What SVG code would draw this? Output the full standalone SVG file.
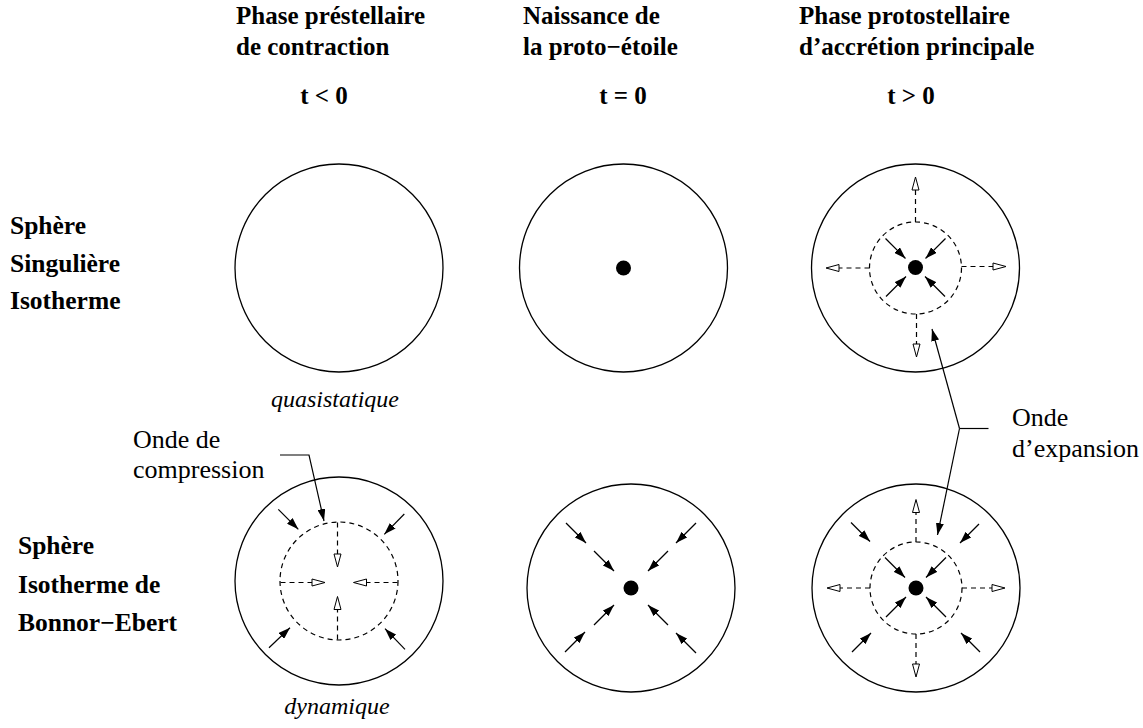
<svg xmlns="http://www.w3.org/2000/svg" width="1143" height="728" viewBox="0 0 1143 728">
<style>
.bg{fill:#fff}
.hd{font-family:"Liberation Serif","Times New Roman",serif;font-weight:bold;font-size:25px;fill:#000}
.lb{font-family:"Liberation Serif","Times New Roman",serif;font-weight:bold;font-size:25.5px;fill:#000}
.it{font-family:"Liberation Serif","Times New Roman",serif;font-style:italic;font-size:24px;fill:#000}
.rg{font-family:"Liberation Serif","Times New Roman",serif;font-size:26px;fill:#000}
.mid{text-anchor:middle}
.outer{fill:none;stroke:#000;stroke-width:1.3}
.shell{fill:none;stroke:#000;stroke-width:1.2;stroke-dasharray:5 4}
.dot{fill:#000}
.ar{fill:none;stroke:#000;stroke-width:1.2;marker-end:url(#ah)}
.da{fill:none;stroke:#000;stroke-width:1.2;stroke-dasharray:5 4;marker-end:url(#oh)}
.cn{fill:none;stroke:#000;stroke-width:1.2;marker-end:url(#ah)}
.cl{fill:none;stroke:#000;stroke-width:1.2}
</style>
<defs>
<marker id="ah" viewBox="0 0 12 8" refX="12" refY="4" markerWidth="12" markerHeight="8" orient="auto" markerUnits="userSpaceOnUse">
<path d="M0,0 L12,4 L0,8 z" fill="#000" stroke="none"/>
</marker>
<marker id="oh" viewBox="-1 -1 15 9" refX="13" refY="3.5" markerWidth="15" markerHeight="9" orient="auto" markerUnits="userSpaceOnUse">
<path d="M0,0 L13,3.5 L0,7 z" fill="#fff" stroke="#000" stroke-width="1" stroke-dasharray="none"/>
</marker>
</defs>
<rect class="bg" x="0" y="0" width="1143" height="728"/>

<g id="col-prestellaire">
<text class="hd" x="236" y="24">Phase préstellaire</text>
<text class="hd" x="236" y="55">de contraction</text>
<text class="hd mid" x="324" y="104">t &lt; 0</text>
</g>
<g id="col-naissance">
<text class="hd" x="523" y="24">Naissance de</text>
<text class="hd" x="523" y="55">la proto−étoile</text>
<text class="hd mid" x="623" y="104">t = 0</text>
</g>
<g id="col-protostellaire">
<text class="hd" x="799" y="24">Phase protostellaire</text>
<text class="hd" x="799" y="55">d’accrétion principale</text>
<text class="hd mid" x="911" y="104">t &gt; 0</text>
</g>

<g id="row-sis">
<text class="lb" x="10" y="234">Sphère</text>
<text class="lb" x="10" y="272">Singulière</text>
<text class="lb" x="10" y="309">Isotherme</text>
</g>
<g id="row-be">
<text class="lb" x="18" y="554">Sphère</text>
<text class="lb" x="18" y="593">Isotherme de</text>
<text class="lb" x="18" y="631">Bonnor−Ebert</text>
</g>

<g id="sis-prestellaire">
<circle class="outer" cx="339" cy="268" r="104"/>
<text class="it mid" x="335" y="407">quasistatique</text>
</g>

<g id="sis-naissance">
<circle class="outer" cx="623.5" cy="268" r="104"/>
<circle class="dot" cx="623.5" cy="268" r="7.5"/>
</g>

<g id="sis-protostellaire">
<circle class="outer" cx="915.5" cy="268" r="104"/>
<circle class="shell" cx="915.5" cy="268" r="46"/>
<circle class="dot" cx="915.5" cy="267.5" r="7.5"/>
<line class="ar" x1="885.5" y1="238.5" x2="905.5" y2="258.5"/>
<line class="ar" x1="945.5" y1="238.5" x2="925.5" y2="258.5"/>
<line class="ar" x1="886" y1="296.5" x2="906" y2="276.5"/>
<line class="ar" x1="945" y1="296.5" x2="925" y2="276.5"/>
<line class="da" x1="915.5" y1="222" x2="915.5" y2="177"/>
<line class="da" x1="916.5" y1="314" x2="916.5" y2="357"/>
<line class="da" x1="869.5" y1="268" x2="826" y2="268"/>
<line class="da" x1="961.5" y1="266.5" x2="1006" y2="266.5"/>
</g>

<g id="be-prestellaire">
<circle class="outer" cx="339" cy="581" r="104"/>
<circle class="shell" cx="339" cy="581" r="59"/>
<line class="ar" x1="278.3" y1="509.3" x2="298.3" y2="529.3"/>
<line class="ar" x1="404.3" y1="514" x2="384.3" y2="534.3"/>
<line class="ar" x1="269" y1="647.7" x2="290" y2="627.7"/>
<line class="ar" x1="405" y1="649.3" x2="385" y2="628.7"/>
<line class="da" x1="337.5" y1="522.5" x2="337.5" y2="567"/>
<line class="da" x1="337.5" y1="639.5" x2="337.5" y2="596.5"/>
<line class="da" x1="280.5" y1="582.5" x2="325" y2="582.5"/>
<line class="da" x1="397.5" y1="582.5" x2="353.5" y2="582.5"/>
<text class="it mid" x="337" y="714">dynamique</text>
</g>

<g id="be-naissance">
<circle class="outer" cx="631" cy="588" r="104"/>
<circle class="dot" cx="631" cy="588" r="7.5"/>
<line class="ar" x1="566" y1="523" x2="586" y2="543"/>
<line class="ar" x1="594" y1="551" x2="614" y2="571"/>
<line class="ar" x1="696" y1="523" x2="676" y2="543"/>
<line class="ar" x1="668" y1="551" x2="648" y2="571"/>
<line class="ar" x1="565" y1="652" x2="585" y2="632"/>
<line class="ar" x1="594" y1="625" x2="614" y2="605"/>
<line class="ar" x1="696" y1="653" x2="676" y2="633"/>
<line class="ar" x1="668" y1="625" x2="648" y2="605"/>
</g>

<g id="be-protostellaire">
<circle class="outer" cx="916" cy="588" r="104"/>
<circle class="shell" cx="916" cy="588" r="46"/>
<circle class="dot" cx="916" cy="588" r="7.5"/>
<line class="ar" x1="851" y1="522.5" x2="870" y2="541.5"/>
<line class="ar" x1="979" y1="524" x2="960" y2="543"/>
<line class="ar" x1="852" y1="652" x2="871" y2="633"/>
<line class="ar" x1="980" y1="652" x2="961" y2="633"/>
<line class="ar" x1="885" y1="557.5" x2="905" y2="577.5"/>
<line class="ar" x1="946" y1="557.5" x2="926" y2="577.5"/>
<line class="ar" x1="886" y1="617" x2="906" y2="597"/>
<line class="ar" x1="946" y1="617" x2="926" y2="597"/>
<line class="da" x1="916" y1="542" x2="916" y2="499.5"/>
<line class="da" x1="916" y1="634" x2="916" y2="677"/>
<line class="da" x1="870" y1="588" x2="827" y2="588"/>
<line class="da" x1="962" y1="588" x2="1005" y2="588"/>
</g>

<g id="label-compression">
<text class="rg" x="133" y="448">Onde de</text>
<text class="rg" x="133" y="478">compression</text>
</g>
<g id="label-expansion">
<text class="rg" x="1012" y="426">Onde</text>
<text class="rg" x="1012" y="457">d’expansion</text>
</g>

<g id="connectors">
<polyline class="cn" points="280,455 309,455 324,521"/>
<line class="cl" x1="988.5" y1="428.5" x2="959.5" y2="428.5"/>
<line class="cn" x1="959.5" y1="428.5" x2="932" y2="329"/>
<line class="cn" x1="959.5" y1="428.5" x2="937.5" y2="535"/>
</g>
</svg>
